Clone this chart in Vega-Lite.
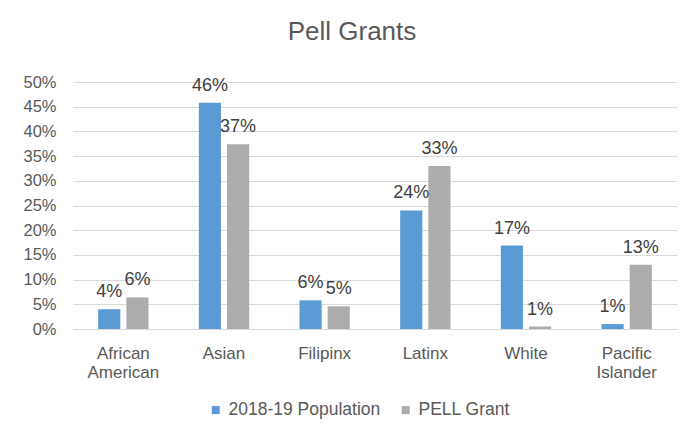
{
  "$schema": "https://vega.github.io/schema/vega-lite/v6.json",
  "autosize": {"type": "none"},
  "width": 604,
  "height": 247,
  "padding": {"left": 73, "top": 82, "right": 9, "bottom": 100},
  "background": "white",
  "title": {
    "text": "Pell Grants",
    "fontSize": 26,
    "font": "Liberation Sans",
    "fontWeight": "normal",
    "color": "#595959",
    "anchor": "middle",
    "offset": 29,
    "dx": -23
  },
  "data": {
    "values": [
      {"group": "African American", "series": "2018-19 Population", "value": 0.040},
      {"group": "African American", "series": "PELL Grant", "value": 0.064},
      {"group": "Asian", "series": "2018-19 Population", "value": 0.458},
      {"group": "Asian", "series": "PELL Grant", "value": 0.374},
      {"group": "Filipinx", "series": "2018-19 Population", "value": 0.058},
      {"group": "Filipinx", "series": "PELL Grant", "value": 0.046},
      {"group": "Latinx", "series": "2018-19 Population", "value": 0.240},
      {"group": "Latinx", "series": "PELL Grant", "value": 0.330},
      {"group": "White", "series": "2018-19 Population", "value": 0.169},
      {"group": "White", "series": "PELL Grant", "value": 0.005},
      {"group": "Pacific Islander", "series": "2018-19 Population", "value": 0.010},
      {"group": "Pacific Islander", "series": "PELL Grant", "value": 0.130}
    ]
  },
  "encoding": {
    "x": {
      "field": "group",
      "type": "nominal",
      "sort": null,
      "scale": {"paddingInner": 0.5, "paddingOuter": 0.25},
      "axis": {
        "title": null,
        "labelAngle": 0,
        "labelExpr": "split(datum.label, ' ')",
        "labelFont": "Liberation Sans",
        "labelFontSize": 17,
        "labelColor": "#595959",
        "labelPadding": 16,
        "labelLineHeight": 19,
        "ticks": false,
        "domain": true,
        "domainColor": "#D9D9D9",
        "grid": false
      }
    },
    "xOffset": {
      "field": "series",
      "type": "nominal",
      "sort": ["2018-19 Population", "PELL Grant"],
      "scale": {"paddingInner": 0.214}
    },
    "y": {
      "field": "value",
      "type": "quantitative",
      "scale": {"domain": [0, 0.5]},
      "axis": {
        "title": null,
        "format": ".0%",
        "values": [0, 0.05, 0.1, 0.15, 0.2, 0.25, 0.3, 0.35, 0.4, 0.45, 0.5],
        "labelFont": "Liberation Sans",
        "labelFontSize": 16.5,
        "labelColor": "#595959",
        "labelPadding": 17,
        "ticks": false,
        "domain": false,
        "grid": true,
        "gridColor": "#D9D9D9",
        "gridWidth": 1
      }
    }
  },
  "layer": [
    {
      "mark": {"type": "bar"},
      "encoding": {
        "color": {
          "field": "series",
          "type": "nominal",
          "scale": {"domain": ["2018-19 Population", "PELL Grant"], "range": ["#5B9BD5", "#AEABAB"]},
          "legend": {
            "title": null,
            "orient": "none",
            "legendX": 134,
            "legendY": 319,
            "direction": "horizontal",
            "symbolType": "square",
            "symbolSize": 64,
            "symbolStrokeWidth": 0,
            "labelFont": "Liberation Sans",
            "labelFontSize": 17.5,
            "labelColor": "#595959",
            "labelOffset": 4,
            "columnPadding": 16
          }
        }
      }
    },
    {
      "mark": {
        "type": "text",
        "baseline": "alphabetic",
        "dy": -12,
        "font": "Liberation Sans",
        "fontSize": 18,
        "color": "#404040"
      },
      "encoding": {
        "text": {"field": "value", "type": "quantitative", "format": ".0%"}
      }
    }
  ],
  "config": {
    "view": {"stroke": null}
  }
}
